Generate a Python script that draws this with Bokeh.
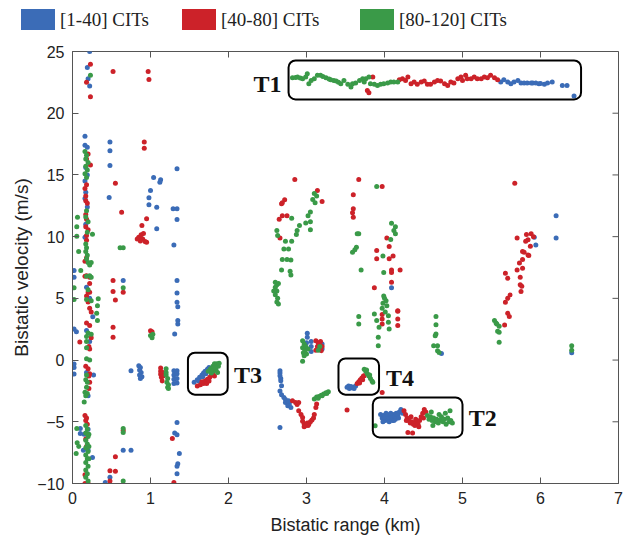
from bokeh.plotting import figure
from bokeh.layouts import column
from bokeh.models import Range1d, BoxAnnotation, Label, FixedTicker, Div
from bokeh.embed import file_html
from bokeh.resources import INLINE

# ---------------- data (bistatic range km, bistatic velocity m/s) ----------------
series_names = ["[1-40] CITs", "[40-80] CITs", "[80-120] CITs"]
series_colors = ["#3b6cb7", "#cc2229", "#3a9a48"]
x_ticks = [0, 1, 2, 3, 4, 5, 6, 7]
y_ticks = [-10, -5, 0, 5, 10, 15, 20, 25]

blue_left = [
    (0.22, 25.0), (0.19, 23.7), (0.2, 22.8), (0.22, 22.2),
    (0.16, 18.14), (0.16, 17.4), (0.19, 17.25), (0.17, 15.6), (0.19, 15.0), (0.16, 14.5),
    (0.17, 13.6), (0.16, 13.1), (0.19, 12.4), (0.17, 11.0), (0.16, 9.95),
    (0.02, 7.25), (0.02, 6.7), (0.18, 5.9), (0.22, 5.0), (0.26, 3.5), (0.02, 2.52), (0.05, 2.3),
    (0.18, 2.4), (0.22, 1.5), (0.02, -0.32), (0.02, -0.6), (0.02, -1.13), (0.18, -1.0),
    (0.27, -1.2), (0.2, -2.9), (0.1, -5.54), (0.1, -5.94), (0.2, -5.6), (0.15, -6.0),
    (0.14, -7.3), (0.256, -7.9), (0.2, -7.3),
]
blue_mid = [
    (0.48, 17.66), (0.48, 16.96), (0.48, 15.77), (0.47, 13.17), (0.65, 6.44), (0.65, -7.3),
    (0.75, -7.3), (0.48, -9.5), (0.42, -9.92),
    (1.04, 14.8), (1.13, 14.6), (1.12, 14.4), (1.0, 13.74), (0.98, 13.15), (0.98, 12.58),
    (1.08, 12.39), (1.08, 10.63), (1.34, 15.5), (1.29, 12.25), (1.34, 12.25), (1.34, 11.38),
    (1.3, 9.33), (1.34, 6.44), (1.34, 5.44), (1.34, 4.68), (1.35, 4.33), (1.35, 3.2),
    (1.35, 2.93), (1.31, 2.12), (0.75, -0.86), (0.85, -0.45), (0.87, -0.6), (0.86, -0.8),
    (0.88, -1.0), (0.86, -1.2), (0.89, -1.35), (0.87, -1.5), (1.3, -0.86), (1.34, -0.86),
    (1.3, -1.2), (1.34, -1.1), (1.3, -1.55), (1.34, -1.5), (1.3, -1.9), (1.34, -1.85),
    (1.34, -5.05), (1.31, -5.9), (1.34, -6.05), (1.37, -7.57), (1.35, -8.4), (1.34, -8.6),
    (1.34, -9.2),
]
blue_t3 = [
    (1.56, -1.8), (1.6, -1.6), (1.63, -1.4), (1.66, -1.2), (1.68, -1.05), (1.7, -0.9),
    (1.73, -0.75), (1.75, -0.6), (1.62, -1.7), (1.67, -1.35), (1.71, -1.1),
]
blue_right = [
    (2.66, -0.86), (2.66, -1.05), (2.66, -1.27), (2.67, -1.5), (2.67, -1.67), (2.68, -2.08),
    (2.66, -2.5), (2.68, -2.8), (2.71, -3.03), (2.73, -3.2), (2.73, -3.43), (2.76, -3.7),
    (2.78, -3.56), (2.8, -3.84), (2.77, -3.3), (2.66, -5.46),
    (3.01, 2.17), (3.01, 1.84), (3.06, 1.5), (3.06, 1.1), (3.06, 0.7), (3.2, 1.3), (3.2, 0.9),
    (3.0, 1.4), (4.09, 5.85), (4.73, 0.54), (6.2, 11.7), (6.2, 9.9), (5.92, 9.95),
    (5.94, 9.33), (6.4, 0.6),
]
blue_t4 = [
    (3.52, -2.2), (3.55, -2.3), (3.58, -2.25), (3.6, -2.2), (3.63, -2.1), (3.54, -2.1),
    (3.57, -2.15), (3.61, -2.3),
]
blue_t2 = [
    (3.95, -4.4), (3.97, -4.7), (3.99, -4.5), (4.01, -4.9), (4.03, -4.6), (4.05, -4.8),
    (4.07, -4.5), (4.09, -4.7), (4.11, -4.4), (4.13, -4.6), (4.15, -4.3), (4.17, -4.5),
    (4.19, -4.2), (4.21, -4.0), (4.23, -4.3), (3.98, -5.0), (4.02, -4.3), (4.06, -5.0),
    (4.1, -4.9), (4.14, -4.8), (4.18, -4.7), (4.0, -4.6), (4.04, -4.4), (4.08, -4.3),
    (4.12, -4.9),
]
blue_t1 = [
    (5.49, 22.52), (5.53, 22.71), (5.58, 22.52), (5.62, 22.39), (5.66, 22.52), (5.71, 22.66),
    (5.75, 22.44), (5.79, 22.44), (5.83, 22.44), (5.88, 22.44), (5.9, 22.44), (5.94, 22.44),
    (5.98, 22.39), (6.0, 22.4), (6.05, 22.34), (6.09, 22.44), (6.15, 22.52), (6.28, 22.25),
    (6.34, 22.25), (6.43, 21.39),
]

red_left = [
    (0.23, 23.96), (0.18, 22.5), (0.23, 21.34),
    (0.2, 16.7), (0.18, 16.3), (0.23, 15.8), (0.18, 14.2), (0.16, 13.9), (0.17, 13.3),
    (0.17, 12.9), (0.19, 12.7), (0.17, 11.8), (0.18, 11.4), (0.17, 10.8), (0.2, 10.55),
    (0.18, 10.1), (0.18, 9.7), (0.18, 8.3), (0.16, 8.0), (0.18, 6.84), (0.16, 6.8),
    (0.22, 6.7), (0.22, 6.2), (0.2, 5.5), (0.22, 5.5), (0.18, 5.2), (0.2, 4.7), (0.22, 4.2),
    (0.24, 3.9), (0.18, 3.0), (0.22, 2.8), (0.24, 1.8), (0.21, 1.1), (0.22, 0.9),
    (0.094, 1.47), (0.17, -0.5), (0.2, -0.7), (0.22, -1.1), (0.21, -1.3), (0.22, -1.8),
    (0.21, -2.3), (0.16, -4.5), (0.18, -4.7), (0.17, -4.9), (0.19, -5.2), (0.17, -6.4),
    (0.18, -7.0), (0.16, -9.3), (0.16, -10.0), (0.2, -10.0),
]
red_mid = [
    (0.52, 23.37), (0.97, 23.37), (0.98, 22.74), (0.92, 17.66), (0.92, 17.17), (0.55, 14.33),
    (0.63, 11.98), (0.95, 11.44), (0.89, 10.9), (0.85, 9.95), (0.88, 10.15), (0.91, 10.25),
    (0.9, 9.8), (0.87, 9.65), (0.93, 9.6), (0.83, 9.8), (0.95, 9.55),
    (0.52, 6.44), (0.52, 5.55), (0.55, 4.87), (0.65, 5.5), (0.52, 2.65), (0.52, 1.84),
    (1.0, 2.38), (1.02, 2.3), (1.13, -0.64), (1.13, -0.9), (1.13, -1.15), (1.14, -1.4),
    (1.15, -1.7), (1.16, -1.0), (1.16, -1.3), (0.65, -5.7), (0.55, -7.84), (0.48, -8.97),
    (0.55, -9.0), (0.48, -9.8), (1.28, -6.35), (1.3, -9.92),
]
red_t3 = [
    (1.6, -2.1), (1.64, -2.0), (1.68, -1.9), (1.7, -1.7), (1.73, -1.55), (1.76, -1.4),
    (1.78, -1.2), (1.8, -1.05), (1.66, -1.75), (1.72, -1.9), (1.75, -1.7), (1.82, -1.3),
]
red_right = [
    (2.82, -3.3), (2.86, -3.43), (2.9, -3.43), (2.88, -3.6), (2.9, -4.1), (2.93, -4.4),
    (2.95, -4.65), (2.97, -5.18), (2.95, -4.95), (2.99, -5.3), (3.01, -5.1), (3.03, -5.2),
    (3.05, -5.0), (3.07, -4.85), (3.09, -4.7), (3.1, -4.4), (3.12, -3.84), (3.13, -3.56),
    (2.97, -5.4), (3.02, -5.3),
    (3.12, 1.57), (3.15, 1.4), (3.18, 1.5), (3.14, 1.1), (3.17, 0.9), (3.2, 1.1), (3.12, 0.8),
    (3.19, 0.76), (3.16, 1.3),
    (2.85, 14.63), (2.72, 12.98), (2.69, 12.74), (2.68, 12.66), (2.69, 11.7), (2.75, 11.7),
    (2.65, 11.4), (2.66, 9.9), (3.14, 13.74), (3.2, 12.85),
    (3.67, 14.63), (3.6, 13.4), (3.6, 12.25), (3.59, 11.93), (3.6, 11.57), (3.97, 14.06),
    (4.03, 9.9), (3.9, 8.87), (4.06, 9.2), (4.11, 8.44), (4.06, 8.2), (3.9, 8.2), (4.09, 7.3),
    (4.09, 7.1), (4.2, 7.3), (4.09, 6.3), (3.87, 5.85), (3.97, 3.7), (4.17, 3.95),
    (4.17, 3.33), (3.97, 3.33), (3.97, 2.93), (4.17, 4.0), (4.17, 2.8),
    (3.52, -4.05), (3.97, -2.62),
    (5.67, 14.33), (5.7, 9.9), (5.82, 10.17), (5.88, 10.23), (5.91, 10.0), (5.81, 9.63),
    (5.84, 9.74), (5.87, 9.22), (5.77, 8.8), (5.79, 8.73), (5.85, 8.47), (5.84, 8.52),
    (5.77, 8.14), (5.73, 7.87), (5.7, 7.3), (5.77, 7.43), (5.74, 6.7), (5.74, 6.1),
    (5.76, 5.98), (5.75, 5.55), (5.55, 7.03), (5.58, 6.63), (5.61, 5.28), (5.58, 5.0),
    (5.55, 4.68), (5.58, 3.79), (5.6, 3.52), (5.54, 2.85),
]
red_t4 = [
    (3.65, -1.9), (3.67, -1.75), (3.69, -1.6), (3.71, -1.45), (3.73, -1.3), (3.74, -1.27),
    (3.68, -1.85), (3.72, -1.6),
]
red_t2 = [
    (4.25, -4.1), (4.27, -4.4), (4.29, -4.7), (4.31, -4.9), (4.33, -5.1), (4.35, -5.0),
    (4.37, -5.2), (4.39, -5.3), (4.41, -5.0), (4.43, -5.2), (4.45, -4.9), (4.47, -4.6),
    (4.49, -4.3), (4.51, -4.0), (4.53, -4.2), (4.3, -5.86), (4.36, -5.9), (4.28, -4.9),
    (4.34, -4.6), (4.4, -4.8), (4.44, -5.4), (4.5, -4.7),
]
red_t1 = [
    (3.78, 21.85), (3.8, 21.66), (3.85, 22.93), (4.19, 22.71), (4.23, 22.8), (4.27, 22.66),
    (4.3, 22.93), (4.34, 22.39), (4.38, 22.52), (4.42, 22.34), (4.47, 22.52), (4.51, 22.61),
    (4.55, 22.34), (4.59, 22.34), (4.64, 22.52), (4.68, 22.66), (4.72, 22.61), (4.77, 22.39),
    (4.81, 22.25), (4.85, 22.52), (4.89, 22.44), (4.94, 22.8), (4.98, 22.93), (5.0, 22.66),
    (5.04, 23.07), (5.06, 22.8), (5.11, 22.8), (5.15, 22.93), (5.19, 22.8), (5.24, 22.8),
    (5.28, 22.93), (5.32, 22.88), (5.36, 23.07), (5.41, 22.88), (5.45, 22.71),
]

green_left = [
    (0.23, 23.07),
    (0.16, 16.9), (0.18, 16.6), (0.17, 16.3), (0.2, 16.0), (0.17, 15.7), (0.19, 15.4),
    (0.16, 15.1), (0.18, 14.8), (0.18, 12.1), (0.17, 11.6), (0.2, 11.2), (0.19, 10.35),
    (0.17, 9.4), (0.18, 9.1), (0.17, 8.8), (0.19, 8.5), (0.18, 8.2), (0.2, 7.9), (0.22, 7.7),
    (0.24, 7.9), (0.22, 6.84), (0.24, 6.7), (0.18, 6.8), (0.2, 5.7), (0.18, 4.9), (0.24, 4.8),
    (0.2, 2.2), (0.24, 2.1), (0.18, 1.9), (0.18, 1.5), (0.18, 1.0), (0.18, 0.1), (0.22, 0.0),
    (0.064, 11.57), (0.055, 10.8), (0.055, 10.03), (0.079, 8.8), (0.256, 10.2), (0.106, 7.25),
    (0.02, 5.85), (0.02, 4.9), (0.33, 4.96), (0.32, 4.4), (0.31, 3.8), (0.32, 3.2),
    (0.18, -1.2), (0.17, -1.6), (0.19, -1.8), (0.18, -2.2), (0.16, -2.6), (0.19, -2.7),
    (0.17, -2.9), (0.15, -3.4),
    (0.17, -5.3), (0.19, -5.6), (0.17, -5.9), (0.2, -6.2), (0.17, -6.5), (0.19, -6.8),
    (0.17, -7.1), (0.2, -7.4), (0.17, -7.7), (0.19, -8.0), (0.17, -8.3), (0.2, -8.6),
    (0.17, -8.9), (0.19, -9.2), (0.17, -9.5), (0.2, -9.8), (0.21, -6.0), (0.21, -7.0),
    (0.21, -8.0), (0.055, -5.54), (0.06, -6.7), (0.08, -7.0), (0.047, -7.57),
]
green_mid = [
    (0.61, 9.09), (0.65, 9.09), (0.65, 5.85), (1.0, 2.0), (1.02, 1.8), (1.03, 2.1),
    (1.2, -0.7), (1.2, -1.2), (1.22, -1.5), (1.21, -1.8), (1.23, -2.0), (1.22, -2.2),
    (1.23, -2.3), (1.2, -1.0), (0.65, -5.54), (0.65, -5.86), (0.65, -9.8),
]
green_t3 = [
    (1.74, -0.9), (1.77, -0.7), (1.8, -0.5), (1.82, -0.3), (1.85, -0.3), (1.87, -0.5),
    (1.8, -0.9), (1.84, -0.8), (1.86, -1.0), (1.78, -1.05), (1.83, -0.6), (1.88, -0.25),
]
green_right = [
    (3.1, -3.16), (3.13, -3.0), (3.16, -2.95), (3.19, -2.85), (3.22, -2.75), (3.25, -2.65),
    (3.28, -2.56), (3.15, -3.1), (3.2, -2.9), (3.26, -2.7),
    (2.95, 1.57), (2.97, 1.3), (2.95, 1.0), (2.98, 0.8), (2.96, 0.6), (3.0, 0.5), (2.97, 0.35),
    (2.99, 1.1), (2.95, -0.1), (3.02, 0.9), (3.17, 1.1), (3.15, 0.8),
    (2.81, 11.5), (2.62, 10.5), (2.63, 10.1), (2.73, 9.63), (2.81, 9.63), (2.71, 9.0),
    (2.77, 9.0), (2.69, 8.14), (2.75, 8.14), (2.8, 8.1), (2.68, 7.3), (2.79, 7.2), (2.8, 6.9),
    (2.87, 10.17), (2.88, 10.5), (2.91, 10.9), (2.99, 11.1), (3.05, 11.2), (3.02, 11.7),
    (3.05, 12.0), (3.05, 10.55), (3.08, 13.0), (3.11, 12.74), (3.1, 13.5), (3.13, 13.3),
    (2.6, 6.3), (2.62, 6.1), (2.64, 6.2), (2.6, 5.9), (2.62, 5.6), (2.6, 5.3), (2.63, 5.0),
    (2.62, 4.7), (2.64, 4.55), (2.58, 5.6),
    (3.65, 10.23), (3.67, 10.23), (3.64, 9.15), (3.62, 8.93), (3.59, 8.73), (3.7, 7.3),
    (3.9, 14.06), (4.09, 11.08), (4.14, 10.8), (4.12, 10.5), (4.14, 10.23), (4.08, 9.77),
    (3.98, 8.44), (3.99, 7.1), (3.99, 5.2), (4.0, 5.0), (4.02, 4.8), (3.98, 4.6), (4.03, 4.4),
    (3.97, 4.2), (4.01, 3.9), (3.67, 3.52), (3.67, 2.93), (3.87, 3.74), (3.9, 3.2),
    (3.93, 2.65), (3.92, 1.84), (3.92, 1.17), (4.05, 3.6), (4.05, 3.06), (4.06, 2.52),
    (4.66, 3.52), (4.66, 2.87), (4.66, 2.12), (4.65, 1.98), (4.63, 1.17), (4.68, 1.17),
    (4.68, 0.76), (4.7, 0.62),
    (5.41, 3.2), (5.44, 2.93), (5.47, 2.74), (5.45, 2.33), (5.47, 2.25), (5.47, 1.44),
    (5.43, 3.0), (6.4, 1.17), (6.4, 0.8),
]
green_t4 = [
    (3.74, -0.75), (3.76, -0.9), (3.78, -1.1), (3.8, -1.3), (3.82, -1.5), (3.84, -1.7),
    (3.85, -1.8), (3.77, -0.8), (3.81, -1.2),
]
green_t2 = [
    (4.55, -4.5), (4.57, -4.8), (4.59, -4.6), (4.61, -4.9), (4.63, -4.7), (4.65, -5.0),
    (4.67, -4.8), (4.69, -5.1), (4.71, -4.9), (4.73, -4.6), (4.75, -5.0), (4.77, -4.8),
    (4.79, -5.2), (4.81, -4.7), (4.83, -5.0), (4.85, -4.9), (4.87, -5.1), (4.6, -4.2),
    (4.7, -4.4), (4.78, -4.3), (4.84, -4.1), (3.88, -5.32), (4.62, -5.3),
]
green_t1 = [
    (2.82, 22.88), (2.86, 22.9), (2.885, 22.93), (2.92, 22.85), (2.95, 22.8), (2.99, 22.93),
    (3.01, 23.2), (3.03, 22.39), (3.06, 22.66), (3.1, 22.8), (3.14, 23.07), (3.18, 23.07),
    (3.21, 22.98), (3.25, 22.88), (3.29, 22.78), (3.31, 22.71), (3.35, 22.66), (3.38, 22.61),
    (3.41, 22.5), (3.44, 22.39), (3.48, 22.66), (3.53, 22.34), (3.57, 22.12), (3.59, 22.39),
    (3.63, 22.44), (3.68, 22.66), (3.72, 22.8), (3.74, 22.52), (3.76, 22.8), (3.8, 22.93),
    (3.82, 22.39), (3.87, 22.34), (3.91, 22.25), (3.95, 22.34), (3.99, 22.39), (4.04, 22.44),
    (4.08, 22.52), (4.12, 22.52), (4.17, 22.52),
]

groups = [
    blue_left + blue_mid + blue_t3 + blue_right + blue_t4 + blue_t2 + blue_t1,
    red_left + red_mid + red_t3 + red_right + red_t4 + red_t2 + red_t1,
    green_left + green_mid + green_t3 + green_right + green_t4 + green_t2 + green_t1,
]

# target boxes (left, right, bottom, top) and their tags
boxes = [(2.77, 6.52, 21.12, 24.28), (1.48, 1.99, -2.8, 0.6),
         (3.41, 3.93, -2.8, 0.13), (3.85, 5.0, -6.27, -3.03)]
tags = [("T1", 2.32, 22.38), ("T3", 2.07, -1.22), ("T4", 4.02, -1.47), ("T2", 5.08, -4.71)]

X0, X1, Y0, Y1 = 0, 7, -10, 25
TICK_PX = 6

# ---------------- legend strip (HTML) ----------------
legend_left_px = [21, 182, 360]   # left edge of each swatch
parts = []
for name, col, lx in zip(series_names, series_colors, legend_left_px):
    parts.append(
        f'<div style="position:absolute;left:{lx}px;top:9px;width:34px;height:21px;'
        f'background:{col};"></div>'
        f'<div style="position:absolute;left:{lx + 39}px;top:8px;height:23px;line-height:23px;'
        f'font-family:\'Liberation Serif\',serif;font-size:19px;color:#222;white-space:nowrap;">'
        f'{name}</div>'
    )
legend_html = ('<div style="position:relative;width:627px;height:39px;margin:0;padding:0;">'
               + "".join(parts) + '</div>')
leg = Div(text=legend_html, width=627, height=39, margin=0)

# ---------------- main figure ----------------
p = figure(width=627, height=500, output_backend="svg", toolbar_location=None,
           x_range=Range1d(X0, X1), y_range=Range1d(Y0, Y1),
           min_border_left=72, min_border_right=9, min_border_top=12, min_border_bottom=56)
p.background_fill_color = "white"
p.border_fill_color = "white"
p.outline_line_color = "#555555"
p.xgrid.visible = False
p.ygrid.visible = False

for pts, col in zip(groups, series_colors):
    xs = [a for a, b in pts]
    ys = [b for a, b in pts]
    p.scatter(xs, ys, size=5, fill_color=col, line_color=None)

for (l, r, b, t) in boxes:
    p.add_layout(BoxAnnotation(left=l, right=r, bottom=b, top=t, fill_color=None,
                               line_color="black", line_alpha=1.0, line_width=2,
                               border_radius=7))
for txt, tx, ty in tags:
    p.add_layout(Label(x=tx, y=ty, text=txt, text_font="Liberation Serif",
                       text_font_style="bold", text_font_size="24px",
                       text_baseline="middle", text_align="left", text_color="#111111"))

# mirrored inward ticks on top and right edges (frame is 546 x 432 px)
fx = (X1 - X0) / 546.0 * TICK_PX
fy = (Y1 - Y0) / 432.0 * TICK_PX
p.segment(x0=x_ticks, x1=x_ticks, y0=[Y1] * len(x_ticks), y1=[Y1 - fy] * len(x_ticks),
          line_color="#555555", line_width=1)
p.segment(x0=[X1] * len(y_ticks), x1=[X1 - fx] * len(y_ticks), y0=y_ticks, y1=y_ticks,
          line_color="#555555", line_width=1)

p.xaxis.ticker = FixedTicker(ticks=x_ticks)
p.yaxis.ticker = FixedTicker(ticks=y_ticks)

for ax in p.axis:
    ax.major_tick_in = TICK_PX
    ax.major_tick_out = 0
    ax.minor_tick_line_color = None
    ax.axis_line_color = "#555555"
    ax.major_tick_line_color = "#555555"
    ax.major_label_text_font = "Liberation Sans"
    ax.major_label_text_font_size = "16px"
    ax.major_label_text_color = "#222222"
    ax.major_label_standoff = 8
    ax.axis_label_text_font = "Liberation Sans"
    ax.axis_label_text_font_style = "normal"
    ax.axis_label_text_color = "#222222"

p.xaxis.axis_label = "Bistatic range (km)"
p.xaxis.axis_label_text_font_size = "18px"
p.xaxis.axis_label_standoff = 8
p.yaxis.axis_label = "Bistatic velocity (m/s)"
p.yaxis.axis_label_text_font_size = "19px"
p.yaxis.axis_label_standoff = 2

layout = column(leg, p, spacing=0)
open("out.html", "w").write(file_html(layout, INLINE))
